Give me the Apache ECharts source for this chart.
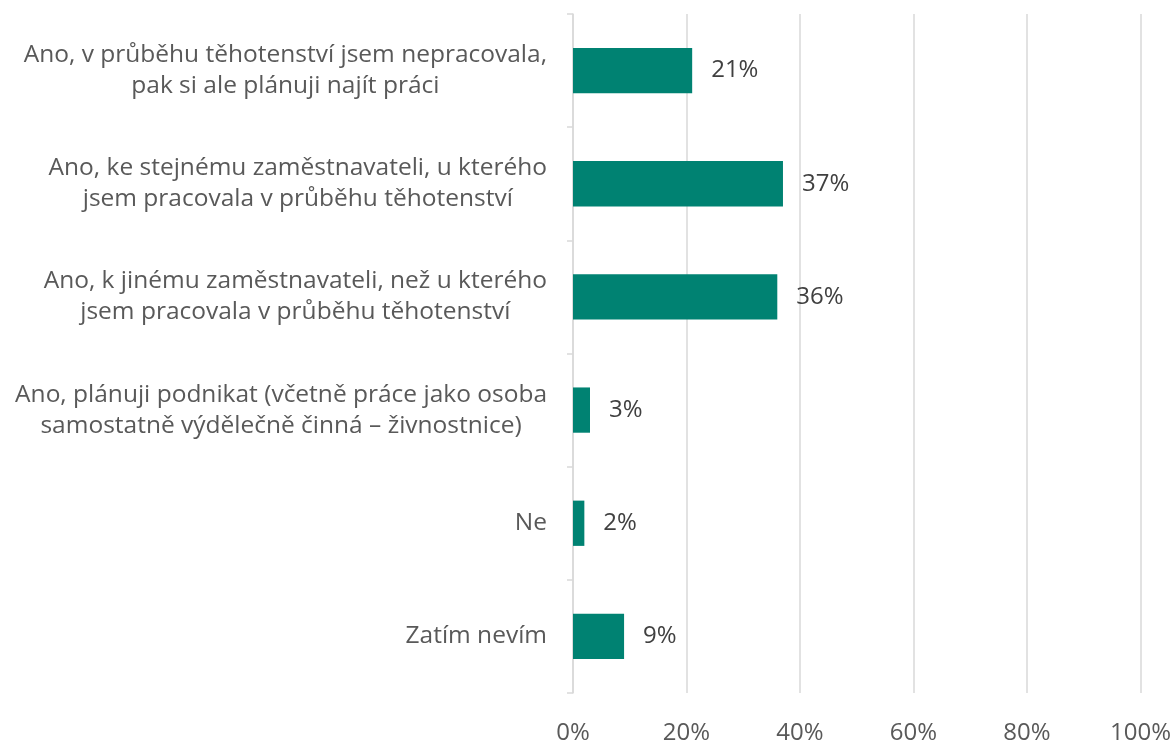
<!DOCTYPE html>
<html>
<head>
<meta charset="utf-8">
<script src="https://cdn.jsdelivr.net/npm/echarts@6/dist/echarts.min.js"></script>
<style>
html,body{margin:0;padding:0;background:#fff;}
#chart{width:1174px;height:745px;}
</style>
</head>
<body>
<div id="chart"></div>
<script>
const categories = [
  "Ano, v průběhu těhotenství jsem nepracovala,\npak si ale plánuji najít práci",
  "Ano, ke stejnému zaměstnavateli, u kterého\njsem pracovala v průběhu těhotenství",
  "Ano, k jinému zaměstnavateli, než u kterého\njsem pracovala v průběhu těhotenství",
  "Ano, plánuji podnikat (včetně práce jako osoba\nsamostatně výdělečně činná – živnostnice)",
  "Ne",
  "Zatím nevím"
];
const values = [21, 37, 36, 3, 2, 9];
const xTicks = [0, 20, 40, 60, 80, 100];

const FONT = '"Open Sans"';
const chart = echarts.init(document.getElementById('chart'));
chart.setOption({
  animation: false,
  backgroundColor: '#ffffff',
  grid: { left: 573, right: 31, top: 14, bottom: 48, containLabel: false },
  xAxis: {
    type: 'value',
    min: xTicks[0],
    max: xTicks[xTicks.length - 1],
    interval: 20,
    axisLine: { show: false },
    axisTick: { show: false },
    splitLine: { show: true, lineStyle: { color: '#d9d9d9', width: 1.5 } },
    axisLabel: {
      formatter: v => v + '%',
      fontFamily: FONT, fontSize: 24, color: '#595959', margin: 28
    }
  },
  yAxis: {
    type: 'category',
    inverse: true,
    data: categories,
    axisLine: { show: true, lineStyle: { color: '#d9d9d9', width: 1.5 } },
    axisTick: { show: true, length: 6, lineStyle: { color: '#d9d9d9', width: 1.5 } },
    axisLabel: {
      margin: 26,
      formatter: v => v.split('\n').map(l => '{c|' + l + '}').join('\n'),
      rich: {
        c: { align: 'center', fontFamily: FONT, fontSize: 24.5, color: '#595959', lineHeight: 31 }
      }
    }
  },
  series: [{
    type: 'bar',
    data: values,
    barCategoryGap: '60%',
    itemStyle: { color: '#008272' },
    label: {
      show: true, position: 'right', distance: 19,
      formatter: p => p.value + '%',
      fontFamily: FONT, fontSize: 24, color: '#404040'
    }
  }]
});
</script>
</body>
</html>
